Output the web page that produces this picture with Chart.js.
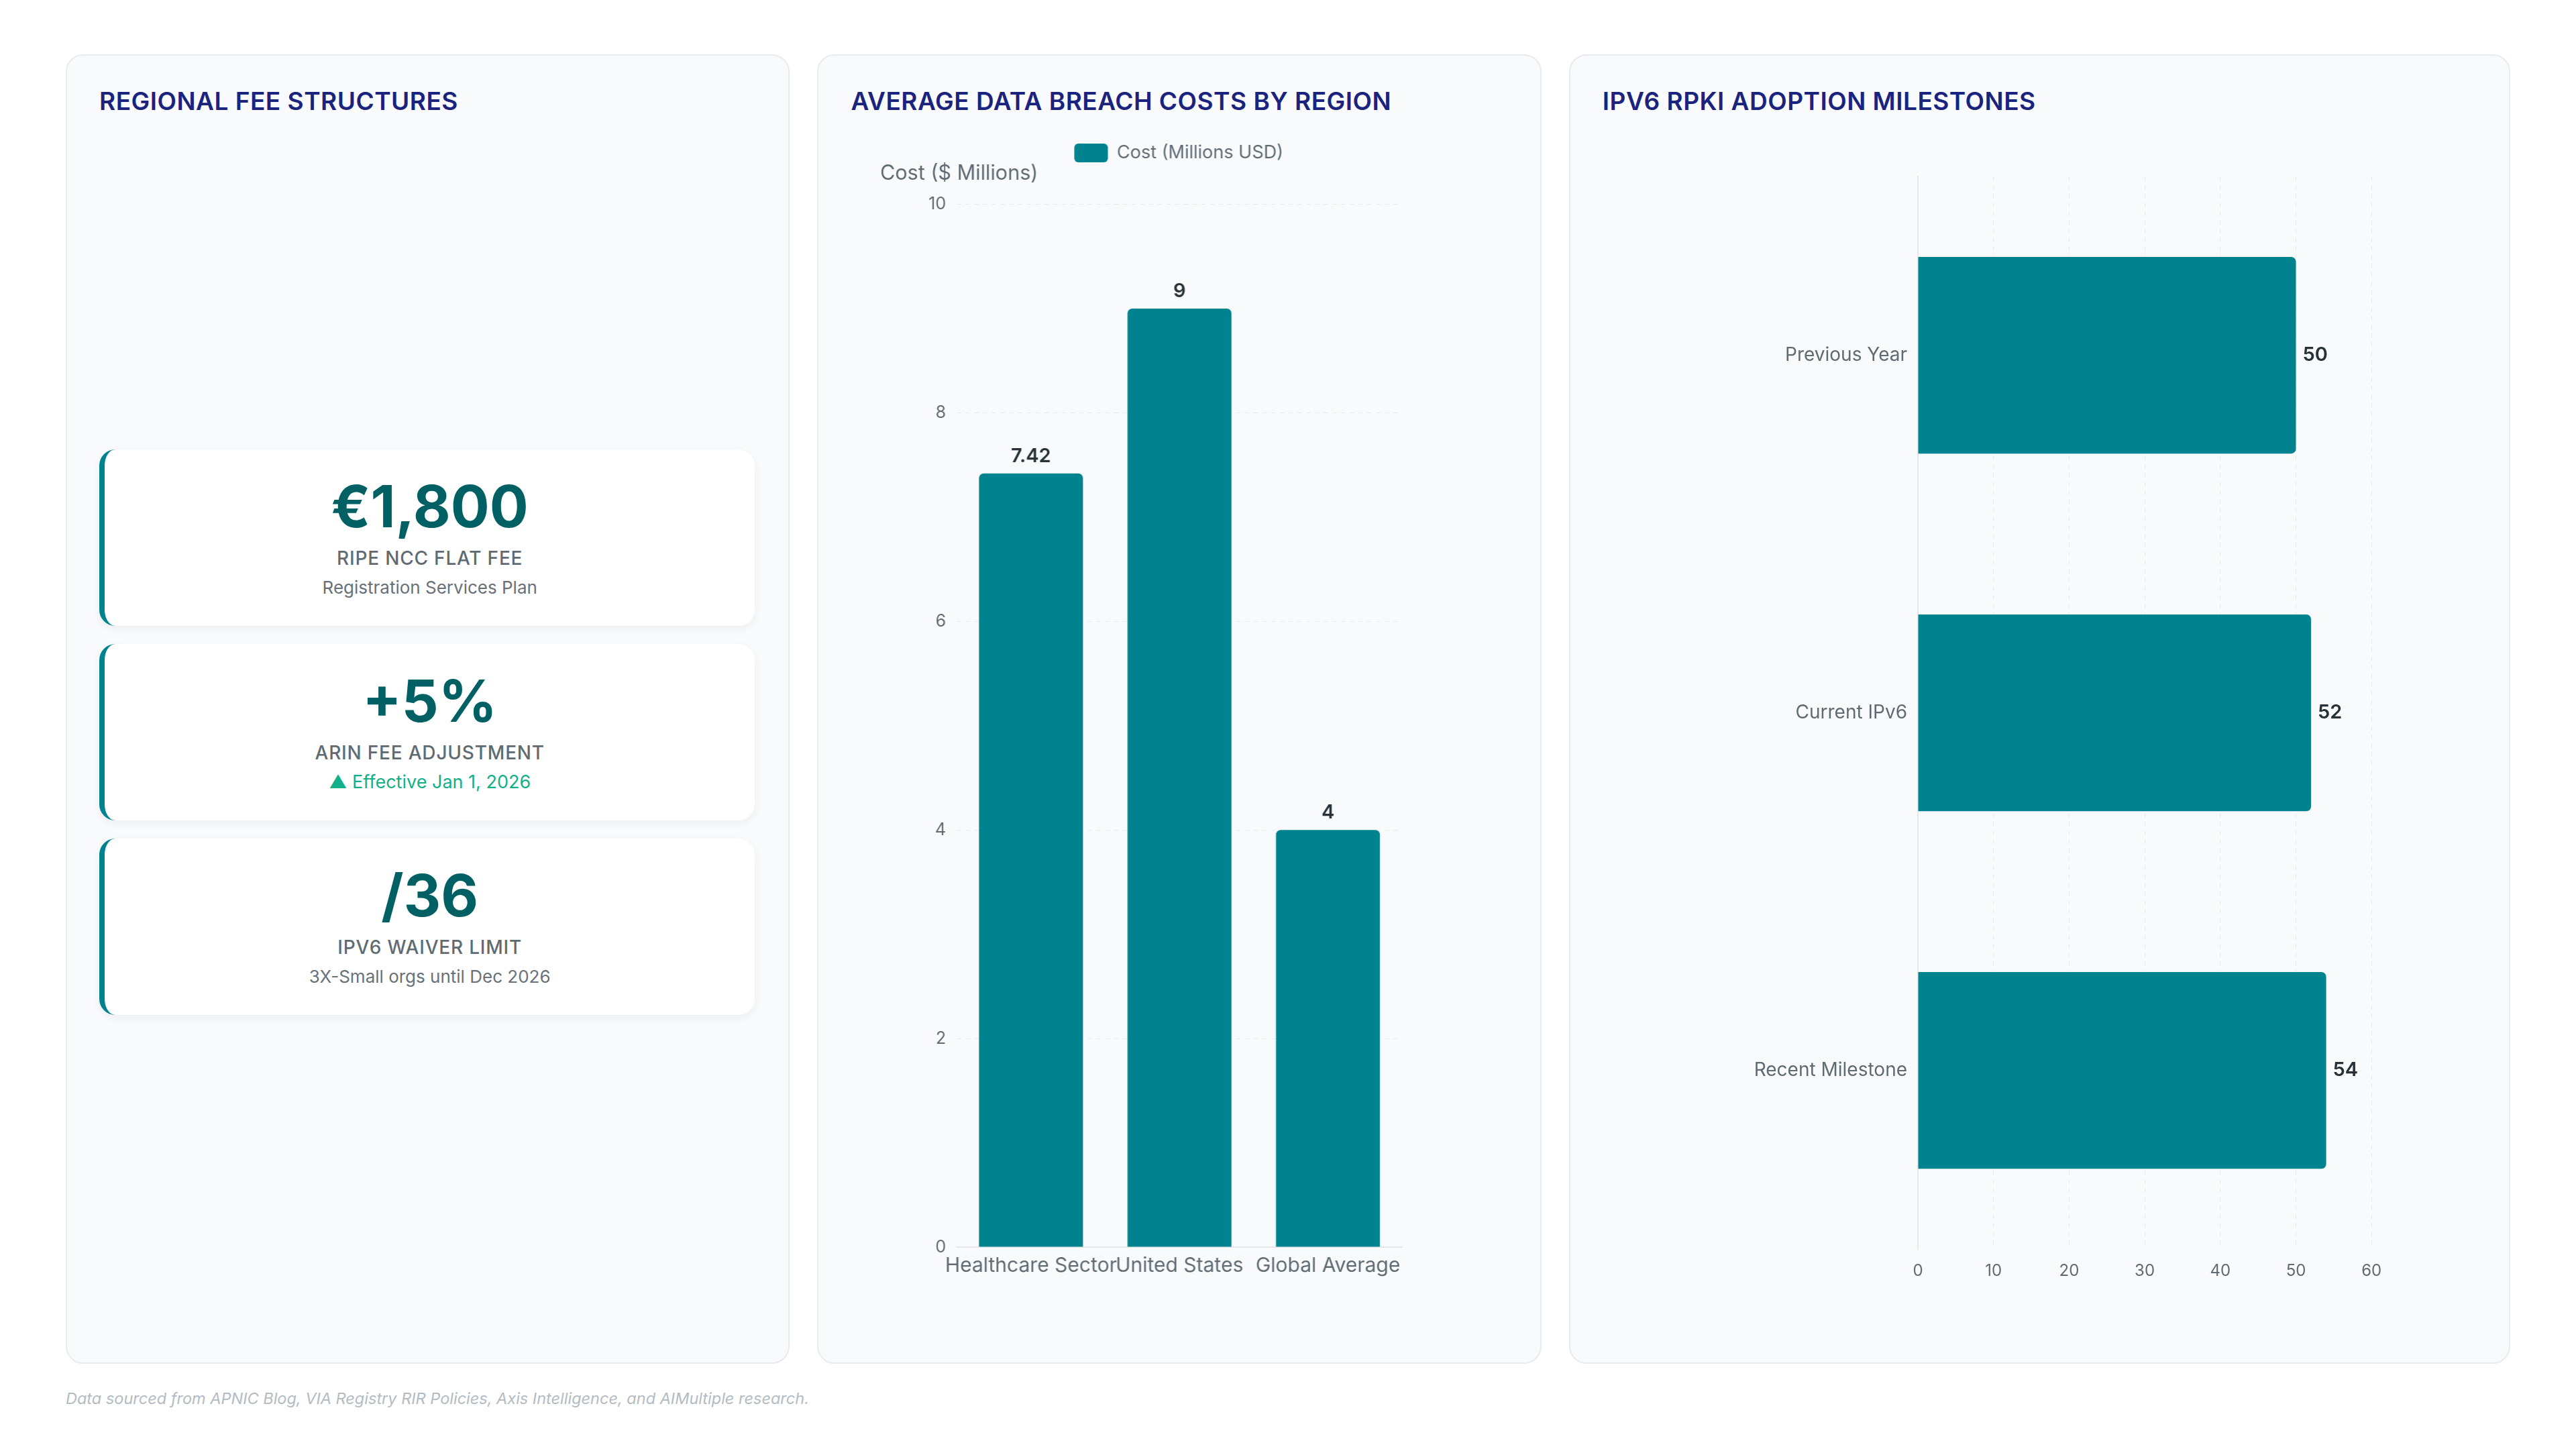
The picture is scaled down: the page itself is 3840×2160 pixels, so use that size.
<!DOCTYPE html>
<html lang="en">
<head>
<meta charset="UTF-8">
<title>RIR Fees, Breach Costs and RPKI Adoption</title>
<script src="https://cdn.jsdelivr.net/npm/chart.js"></script>
<style>
    * { box-sizing: border-box; }
    body {
        margin: 0;
        width: 3840px;
        height: 2160px;
        background: #ffffff;
        font-family: Inter, "Noto Sans", sans-serif;
        overflow: hidden;
    }
    .grid {
        position: absolute;
        left: 98px;
        top: 81px;
        width: 3644px;
        height: 1952px;
        display: grid;
        grid-template-columns: 1fr 1fr 1.3fr;
        gap: 41px;
    }
    .panel {
        background: #f8fafc;
        border: 2px solid #e8ebef;
        border-radius: 26px;
        padding: 45px 50px 48px 48px;
        display: flex;
        flex-direction: column;
        min-width: 0;
    }
    .panel h2 {
        margin: 0 0 26px;
        font-size: 37px;
        line-height: 45px;
        font-weight: 600;
        letter-spacing: 0.5px;
        color: #1a237e;
    }
    .cards {
        flex: 1;
        display: flex;
        flex-direction: column;
        justify-content: center;
        gap: 27px;
    }
    .card {
        background: #ffffff;
        border-left: 8px solid #00838f;
        border-radius: 24px;
        padding: 42px 20px;
        text-align: center;
        box-shadow: 0 4px 14px rgba(15, 23, 42, 0.05);
    }
    .card .value {
        font-size: 86px;
        line-height: 86px;
        font-weight: 700;
        color: #006064;
    }
    .card .label {
        margin-top: 17px;
        font-size: 28px;
        line-height: 34px;
        font-weight: 500;
        letter-spacing: 0.8px;
        color: #5f6b73;
    }
    .card .sub {
        margin-top: 12px;
        font-size: 26px;
        line-height: 30px;
        color: #687178;
    }
    .card .sub.up { color: #12b08a; font-size: 27px; }
    .chart-box {
        position: relative;
        flex: 1;
        min-height: 0;
    }
    .footer {
        position: absolute;
        left: 98px;
        top: 2071px;
        font-size: 23.5px;
        line-height: 28px;
        font-style: italic;
        color: #b3bbc3;
    }
</style>
</head>
<body>
<div class="grid">
    <div class="panel">
        <h2>REGIONAL FEE STRUCTURES</h2>
        <div class="cards">
            <div class="card">
                <div class="value">€1,800</div>
                <div class="label">RIPE NCC FLAT FEE</div>
                <div class="sub">Registration Services Plan</div>
            </div>
            <div class="card">
                <div class="value">+5%</div>
                <div class="label">ARIN FEE ADJUSTMENT</div>
                <div class="sub up">▲ Effective Jan 1, 2026</div>
            </div>
            <div class="card">
                <div class="value">/36</div>
                <div class="label">IPV6 WAIVER LIMIT</div>
                <div class="sub">3X-Small orgs until Dec 2026</div>
            </div>
        </div>
    </div>
    <div class="panel">
        <h2>AVERAGE DATA BREACH COSTS BY REGION</h2>
        <div class="chart-box"><canvas id="breach-chart"></canvas></div>
    </div>
    <div class="panel">
        <h2>IPV6 RPKI ADOPTION MILESTONES</h2>
        <div class="chart-box"><canvas id="rpki-chart"></canvas></div>
    </div>
</div>
<div class="footer">Data sourced from APNIC Blog, VIA Registry RIR Policies, Axis Intelligence, and AIMultiple research.</div>

<script>
    // breach costs, millions USD
    const breachRegions = ['Healthcare Sector', 'United States', 'Global Average'];
    const breachCosts = [7.42, 9, 4];
    const breachAxis = { min: 0, max: 10, step: 2 };

    // RPKI adoption (%)
    const rpkiStages = ['Previous Year', 'Current IPv6', 'Recent Milestone'];
    const rpkiValues = [50, 52, 54];
    const rpkiAxis = { min: 0, max: 60, step: 10 };

    const teal = '#00838f';
    const textGray = '#5f6b73';
    const gridGray = '#e9ecef';

    Chart.defaults.font.family = 'Inter, "Noto Sans", sans-serif';
    Chart.defaults.color = textGray;

    // numbers drawn next to each bar
    const valueLabels = {
        id: 'valueLabels',
        afterDatasetsDraw(chart) {
            const ctx = chart.ctx;
            const values = chart.data.datasets[0].data;
            const horizontal = chart.options.indexAxis === 'y';
            ctx.save();
            ctx.font = '600 29px Inter, sans-serif';
            ctx.fillStyle = '#263238';
            chart.getDatasetMeta(0).data.forEach((bar, i) => {
                if (horizontal) {
                    ctx.textAlign = 'left';
                    ctx.textBaseline = 'middle';
                    ctx.fillText(values[i], bar.x + 10, bar.y);
                } else {
                    ctx.textAlign = 'center';
                    ctx.textBaseline = 'alphabetic';
                    ctx.fillText(values[i], bar.x, bar.y - 17);
                }
            });
            ctx.restore();
        }
    };

    new Chart(document.getElementById('breach-chart'), {
        type: 'bar',
        data: {
            labels: breachRegions,
            datasets: [{
                label: 'Cost (Millions USD)',
                data: breachCosts,
                backgroundColor: teal,
                borderRadius: 7,
                borderSkipped: 'start',
                barPercentage: 0.7,
                categoryPercentage: 1
            }]
        },
        options: {
            responsive: true,
            maintainAspectRatio: false,
            animation: false,
            layout: { padding: { left: 44, right: 44, top: 0, bottom: 68 } },
            plugins: {
                legend: {
                    position: 'top',
                    labels: {
                        boxWidth: 50,
                        boxHeight: 28,
                        padding: 15,
                        useBorderRadius: true,
                        borderRadius: 6,
                        color: textGray,
                        font: { size: 27 }
                    }
                },
                subtitle: {
                    display: true,
                    text: 'Cost ($ Millions)',
                    align: 'start',
                    position: 'top',
                    weight: 500,
                    color: textGray,
                    font: { size: 30.5, weight: 400 },
                    padding: { top: -11, bottom: 27 }
                },
                tooltip: { enabled: false }
            },
            scales: {
                x: {
                    grid: { display: false, drawTicks: false },
                    border: { display: true, color: '#e5e7eb', width: 2 },
                    ticks: { font: { size: 30 }, padding: 10, autoSkip: false, maxRotation: 0 }
                },
                y: {
                    min: breachAxis.min,
                    max: breachAxis.max,
                    ticks: { stepSize: breachAxis.step, font: { size: 25 }, padding: 16 },
                    grid: { color: gridGray, drawTicks: false },
                    border: { display: false, dash: [7, 6] },
                    afterFit: scale => { scale.width = 114; }
                },
                spacer: {
                    type: 'linear',
                    position: 'right',
                    grid: { display: false, drawTicks: false },
                    border: { display: false },
                    ticks: { display: false },
                    afterFit: scale => { scale.width = 112; }
                }
            }
        },
        plugins: [valueLabels]
    });

    new Chart(document.getElementById('rpki-chart'), {
        type: 'bar',
        data: {
            labels: rpkiStages,
            datasets: [{
                label: 'RPKI adoption',
                data: rpkiValues,
                backgroundColor: teal,
                borderRadius: 7,
                borderSkipped: 'start',
                barPercentage: 0.55,
                categoryPercentage: 1
            }]
        },
        options: {
            indexAxis: 'y',
            responsive: true,
            maintainAspectRatio: false,
            animation: false,
            layout: { padding: { left: 0, right: 155, top: 64, bottom: 56 } },
            plugins: {
                legend: { display: false },
                tooltip: { enabled: false }
            },
            scales: {
                x: {
                    min: rpkiAxis.min,
                    max: rpkiAxis.max,
                    ticks: { stepSize: rpkiAxis.step, font: { size: 24 }, padding: 18 },
                    grid: { color: gridGray, drawTicks: false },
                    border: { display: false, dash: [7, 6] }
                },
                y: {
                    grid: { display: false, drawTicks: false },
                    border: { display: true, color: '#e5e7eb', width: 2 },
                    ticks: { font: { size: 28 }, padding: 16 },
                    afterFit: scale => { scale.width = 470; }
                }
            }
        },
        plugins: [valueLabels]
    });
</script>
</body>
</html>
